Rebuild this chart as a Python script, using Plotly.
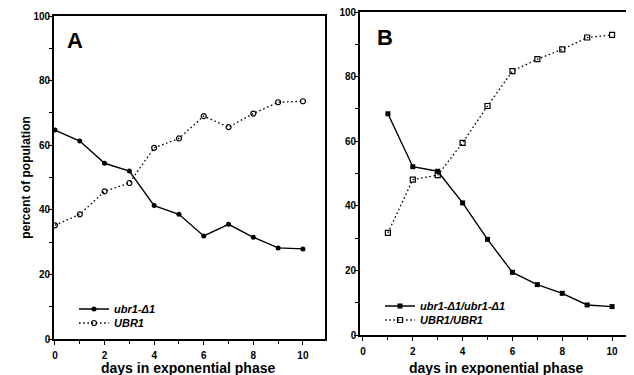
import plotly.graph_objects as go

# Panel A data
days_a = [0, 1, 2, 3, 4, 5, 6, 7, 8, 9, 10]
ubr1_a = [64.7, 61.3, 54.4, 52.0, 41.3, 38.6, 31.9, 35.5, 31.5, 28.2, 27.9]
UBR1_a = [35.2, 38.6, 45.7, 48.3, 59.2, 62.1, 69.0, 65.6, 69.8, 73.3, 73.6]

# Panel B data
days_b = [1, 2, 3, 4, 5, 6, 7, 8, 9, 10]
ubr1_b = [68.5, 52.1, 50.7, 40.9, 29.6, 19.4, 15.6, 12.9, 9.3, 8.8]
UBR1_b = [31.6, 48.1, 49.5, 59.5, 70.9, 81.7, 85.4, 88.4, 92.1, 92.9]

y_ticks = [0, 20, 40, 60, 80, 100]
x_ticks = [0, 2, 4, 6, 8, 10]

FONT = "Liberation Sans, Arial, Helvetica, sans-serif"
W, H = 634, 375
OFF = 8  # page body margin offset of the rendered figure
DOT = "1.6px,2.6px"


def px_x(p):
    return (p - OFF) / W


def px_y(p):
    return 1 - (p - OFF) / H


legfont = dict(family=FONT, size=11, color="black", weight="bold", style="italic")
titlefont = dict(family=FONT, size=14, color="black", weight="bold")

fig = go.Figure()

fig.add_trace(go.Scatter(
    x=days_a, y=ubr1_a, mode="lines+markers", name="ubr1-Δ1",
    line=dict(color="black", width=1.4),
    marker=dict(symbol="circle", size=5, color="black"),
    xaxis="x", yaxis="y", legend="legend"))
fig.add_trace(go.Scatter(
    x=days_a, y=UBR1_a, mode="lines+markers", name="UBR1",
    line=dict(color="black", width=1.3, dash=DOT),
    marker=dict(symbol="circle-open", size=5, color="black", line=dict(width=1.2)),
    xaxis="x", yaxis="y", legend="legend2"))
fig.add_trace(go.Scatter(
    x=days_b, y=ubr1_b, mode="lines+markers", name="ubr1-Δ1/ubr1-Δ1",
    line=dict(color="black", width=1.4),
    marker=dict(symbol="square", size=5, color="black"),
    xaxis="x2", yaxis="y2", legend="legend3"))
fig.add_trace(go.Scatter(
    x=days_b, y=UBR1_b, mode="lines+markers", name="UBR1/UBR1",
    line=dict(color="black", width=1.3, dash=DOT),
    marker=dict(symbol="square-open", size=5, color="black", line=dict(width=1.2)),
    xaxis="x2", yaxis="y2", legend="legend4"))

tickfont = dict(family=FONT, size=10, color="black", weight="bold")


def xaxis_cfg(domain, rng, anchor):
    return dict(
        domain=domain, range=rng, anchor=anchor, automargin=False,
        tickvals=x_ticks, ticktext=[str(v) for v in x_ticks],
        ticks="outside", ticklen=4, tickwidth=1.2, tickcolor="black",
        ticklabelstandoff=2, ticklabeloverflow="allow",
        minor=dict(dtick=1, tick0=0, ticks="outside", ticklen=3, tickwidth=1.1, tickcolor="black"),
        showline=True, linecolor="black", linewidth=1.6, mirror=True,
        showgrid=False, zeroline=False, tickfont=tickfont,
    )


def yaxis_cfg(domain, anchor, title=None):
    d = dict(
        domain=domain, range=[0, 100], anchor=anchor, automargin=False,
        tickvals=y_ticks, ticktext=[str(v) for v in y_ticks],
        ticks="outside", ticklen=4, tickwidth=1.2, tickcolor="black",
        ticklabelstandoff=-4, ticklabeloverflow="allow",
        minor=dict(dtick=10, tick0=0, ticks="outside", ticklen=3, tickwidth=1.1, tickcolor="black"),
        showline=True, linecolor="black", linewidth=1.6, mirror=True,
        showgrid=False, zeroline=False, tickfont=tickfont,
    )
    if title:
        d["title"] = dict(text=title, font=dict(family=FONT, size=12, color="black", weight="bold"),
                          standoff=0)
    return d


def leg(x, y):
    return dict(x=px_x(x), y=px_y(y), xanchor="left", yanchor="middle",
                bgcolor="rgba(0,0,0,0)", borderwidth=0, font=legfont)


fig.update_layout(
    width=W, height=H,
    margin=dict(l=0, r=0, t=0, b=0, autoexpand=False),
    paper_bgcolor="white", plot_bgcolor="white",
    font=dict(family=FONT, color="black"),
    xaxis=xaxis_cfg([px_x(54), px_x(325)], [-0.04, 10.89], "y"),
    yaxis=yaxis_cfg([px_y(339), px_y(16)], "x", "percent of population"),
    xaxis2=xaxis_cfg([px_x(360), px_x(631)], [-0.12, 10.76], "y2"),
    yaxis2=yaxis_cfg([px_y(335), px_y(12)], "x2"),
    legend=leg(74, 309),
    legend2=leg(74, 323),
    legend3=leg(380, 306),
    legend4=leg(380, 320),
    showlegend=True,
    annotations=[
        dict(text="A", x=px_x(75), y=px_y(40), xref="paper", yref="paper",
             xanchor="center", yanchor="middle",
             showarrow=False, font=dict(family=FONT, size=22, color="black", weight="bold")),
        dict(text="B", x=px_x(385), y=px_y(37), xref="paper", yref="paper",
             xanchor="center", yanchor="middle",
             showarrow=False, font=dict(family=FONT, size=22, color="black", weight="bold")),
        dict(text="days in exponential phase", x=px_x(188), y=px_y(358), xref="paper", yref="paper",
             xanchor="center", yanchor="top", showarrow=False, font=titlefont),
        dict(text="days in exponential phase", x=px_x(496), y=px_y(358), xref="paper", yref="paper",
             xanchor="center", yanchor="top", showarrow=False, font=titlefont),
    ],
)

fig.write_html("out.html")
